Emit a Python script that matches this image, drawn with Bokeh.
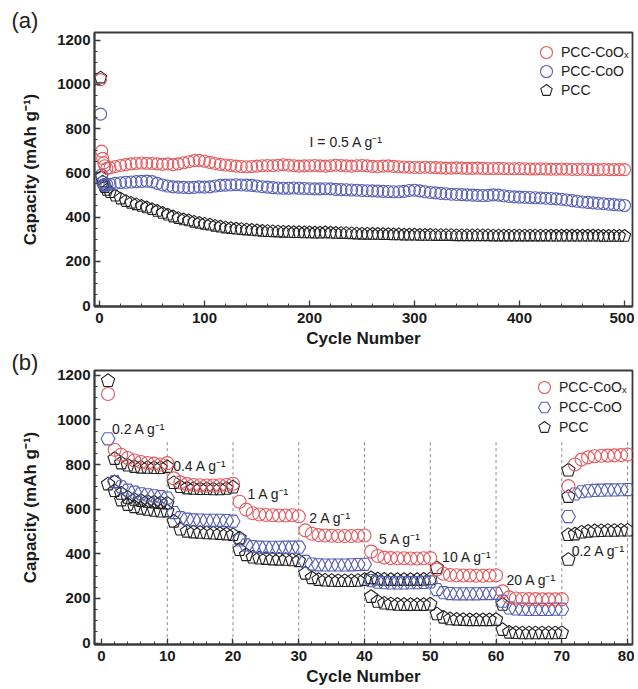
from bokeh.plotting import figure
from bokeh.models import Range1d, Label, Legend, LegendItem, SingleIntervalTicker, Title
from bokeh.layouts import column
from bokeh.embed import file_html
from bokeh.resources import INLINE

# ---------------- data: panel (a), cycling at 0.5 A g-1 ----------------
cycles_a = [1, 2, 3, 4, 5, 7] + list(range(10, 501, 5))

coox_a = [1021, 698, 665, 645, 632, 620,
          622, 628, 633, 637, 640, 642, 644, 643, 642, 640,
          638, 640, 637, 640, 645, 650, 655, 656, 652, 647,
          642, 638, 635, 633, 630, 628, 627, 628, 630, 632,
          633, 632, 634, 636, 634, 632, 630, 631, 632, 633,
          631, 630, 632, 634, 633, 631, 630, 632, 633, 631,
          629, 628, 630, 631, 629, 627, 626, 625, 624, 624,
          625, 624, 623, 622, 621, 621, 622, 621, 620, 620,
          621, 620, 619, 619, 620, 619, 618, 618, 619, 618,
          617, 617, 618, 617, 616, 616, 617, 616, 615, 615,
          616, 615, 614, 614, 615, 614, 614, 614, 614]

coo_a = [865, 590, 557, 546, 543, 545,
         548, 552, 555, 557, 558, 560, 561, 562, 560, 552,
         545, 540, 536, 535, 534, 533, 534, 536, 535, 536,
         540, 543, 544, 545, 546, 545, 544, 543, 540, 537,
         535, 533, 531, 530, 530, 531, 530, 529, 528, 527,
         527, 528, 527, 525, 524, 523, 522, 521, 520, 519,
         518, 517, 516, 515, 514, 514, 516, 520, 521, 518,
         514, 511, 509, 507, 505, 503, 502, 501, 500, 499,
         498, 497, 498, 500, 499, 496, 493, 491, 490, 489,
         488, 487, 486, 485, 484, 482, 480, 477, 474, 471,
         468, 466, 464, 462, 460, 458, 456, 454, 452]

pcc_a = [1030, 581, 560, 545, 535, 522,
         512, 496, 483, 472, 464, 457, 450, 443, 435, 427,
         418, 410, 402, 395, 389, 384, 378, 373, 369, 365,
         360, 356, 352, 349, 347, 345, 343, 341, 339, 337,
         336, 335, 334, 333, 332, 331, 331, 330, 330, 329,
         329, 330, 329, 328, 327, 327, 326, 325, 324, 324,
         323, 323, 322, 322, 321, 321, 320, 320, 320, 319,
         319, 319, 318, 318, 318, 318, 317, 317, 317, 317,
         317, 317, 317, 316, 316, 316, 316, 316, 316, 316,
         316, 316, 316, 316, 315, 315, 315, 315, 315, 315,
         315, 315, 315, 315, 314, 314, 314, 314, 314]

# ---------------- data: panel (b), rate capability ----------------
cycles_b = list(range(1, 81))

coox_b = [1116, 866, 844, 829, 818, 811, 807, 804, 800, 806,
          738, 720, 712, 708, 707, 706, 706, 707, 708, 714,
          633, 598, 582, 576, 574, 573, 572, 572, 573, 568,
          505, 490, 484, 482, 481, 480, 480, 480, 481, 482,
          410, 390, 383, 381, 380, 380, 379, 379, 380, 381,
          330, 311, 305, 304, 303, 303, 302, 302, 303, 304,
          232, 205, 200, 198, 197, 197, 196, 196, 196, 197,
          703, 800, 822, 832, 837, 839, 840, 841, 842, 845]

coo_b = [915, 723, 700, 685, 676, 669, 664, 660, 656, 650,
         585, 562, 555, 552, 551, 550, 550, 550, 549, 546,
         462, 440, 432, 430, 429, 429, 429, 430, 430, 430,
         366, 354, 351, 350, 350, 350, 350, 351, 352, 353,
         280, 273, 271, 270, 270, 270, 271, 271, 272, 274,
         240, 226, 222, 221, 221, 221, 221, 222, 222, 223,
         188, 158, 153, 152, 151, 151, 151, 151, 152, 152,
         567, 668, 678, 682, 684, 685, 686, 686, 687, 688]

pcc_b = [1175, 682, 640, 620, 610, 603, 598, 594, 590, 591,
         545, 510, 500, 497, 495, 493, 492, 490, 488, 485,
         418, 395, 384, 380, 378, 376, 375, 374, 372, 368,
         312, 292, 284, 281, 280, 279, 279, 279, 280, 284,
         208, 186, 178, 175, 173, 172, 172, 172, 172, 174,
         130, 115, 108, 106, 105, 104, 104, 104, 104, 105,
         60, 48, 46, 45, 45, 45, 45, 45, 45, 46,
         374, 488, 496, 500, 502, 503, 504, 504, 505, 505]

# additional dark pentagon points seen behind the coloured rows
extra_cycles_b = [2, 3, 4, 5, 6, 7, 8, 9, 10,
                  11, 12, 13, 14, 15, 16, 17, 18, 19, 20,
                  1, 2, 3, 4, 5, 6, 7, 8, 9, 10,
                  21,
                  41, 42, 43, 44, 45, 46, 47, 48, 49, 50,
                  51, 61, 71, 71, 71]
extra_caps_b = [826, 806, 796, 790, 787, 786, 785, 785, 790,
                718, 700, 694, 692, 691, 691, 690, 690, 692, 698,
                712, 722, 670, 652, 643, 638, 634, 631, 628, 626,
                470,
                292, 286, 285, 284, 284, 284, 284, 284, 285, 287,
                337, 173, 774, 656, 485]

rate_boundaries = [10, 20, 30, 40, 50, 60, 70, 80]
rate_texts = ["0.2 A g⁻¹", "0.4 A g⁻¹", "1 A g⁻¹", "2 A g⁻¹", "5 A g⁻¹",
              "10 A g⁻¹", "20 A g⁻¹", "0.2 A g⁻¹"]
rate_text_x = [1.6, 10.9, 22.2, 31.6, 42.2, 51.8, 61.6, 71.5]
rate_text_y = [960, 795, 668, 562, 466, 384, 282, 414]

series_names = ["PCC-CoOₓ", "PCC-CoO", "PCC"]

RED = "#e25a5f"
BLUE = "#5660b2"
BLACK = "#222222"
FONT = "Liberation Sans"


def style(p, xint, xminor, yint, yminor):
    p.outline_line_color = "#3a3a3a"
    p.outline_line_width = 1.8
    p.xgrid.visible = False
    p.ygrid.visible = False
    p.xaxis.ticker = SingleIntervalTicker(interval=xint, num_minor_ticks=xminor)
    p.yaxis.ticker = SingleIntervalTicker(interval=yint, num_minor_ticks=yminor)
    for ax in (p.xaxis[0], p.yaxis[0]):
        ax.major_tick_in = 6
        ax.major_tick_out = 0
        ax.minor_tick_in = 3
        ax.minor_tick_out = 0
        ax.axis_line_width = 1.8
        ax.axis_line_color = "#3a3a3a"
        ax.major_tick_line_color = "#3a3a3a"
        ax.minor_tick_line_color = "#3a3a3a"
        ax.major_tick_line_width = 1.3
        ax.major_label_text_font = FONT
        ax.major_label_text_font_style = "bold"
        ax.major_label_text_font_size = "15px"
        ax.major_label_text_color = "#1a1a1a"
        ax.axis_label_text_font = FONT
        ax.axis_label_text_font_style = "bold"
        ax.axis_label_text_font_size = "17px"
        ax.axis_label_text_color = "#1a1a1a"
    p.xaxis.major_label_standoff = 6
    p.xaxis.axis_label_standoff = 3
    p.yaxis.major_label_standoff = 4
    p.yaxis.axis_label_standoff = 14
    p.xaxis.axis_label = "Cycle Number"
    p.yaxis.axis_label = "Capacity (mAh g⁻¹)"


def pentagons(p, x, y, r):
    return p.ngon(x=x, y=y, radius=r, radius_units="screen", n=5,
                  fill_color=None, line_color=BLACK, line_width=1.1)


def add_legend(p, renderers, left, bottoms):
    # one single-entry legend per series so that the rows can sit close together
    for name, r, b in zip(series_names, renderers, bottoms):
        leg = Legend(items=[LegendItem(label=name, renderers=[r])],
                     location=(left, b), border_line_alpha=0, background_fill_alpha=0,
                     label_text_font=FONT, label_text_font_size="14px",
                     label_text_color="#222222", glyph_width=30, glyph_height=30,
                     label_standoff=0, spacing=0, padding=0, margin=0, label_height=16)
        p.add_layout(leg)


def panel_tag(p, text, standoff):
    p.add_layout(Title(text=text, align="left", offset=-83, standoff=standoff,
                       text_font=FONT, text_font_size="22px", text_font_style="normal",
                       text_color="#222222"), "above")


# ---------------- panel (a) ----------------
pa = figure(width=634, height=350, output_backend="svg", toolbar_location=None,
            x_range=Range1d(-4.8, 507.6), y_range=Range1d(-4.5, 1234),
            min_border_left=94, min_border_right=2, min_border_top=32, min_border_bottom=41)
style(pa, 100, 5, 200, 4)
panel_tag(pa, "(a)", 0)
rk_a = pentagons(pa, cycles_a, pcc_a, 6.5)
rb_a = pa.scatter(cycles_a, coo_a, marker="circle", size=12, fill_color=None,
                  line_color=BLUE, line_width=1.1)
rr_a = pa.scatter(cycles_a, coox_a, marker="circle", size=12, fill_color=None,
                  line_color=RED, line_width=1.1)
add_legend(pa, [rr_a, rb_a, rk_a], 437, [239, 220, 201])
pa.add_layout(Label(x=200, y=737, text="I = 0.5 A g⁻¹", text_font=FONT,
                    text_font_size="14px", text_baseline="middle", text_color="#222222"))

# ---------------- panel (b) ----------------
pb = figure(width=634, height=338, output_backend="svg", toolbar_location=None,
            x_range=Range1d(-1.06, 80.75), y_range=Range1d(-6, 1221),
            min_border_left=94, min_border_right=2, min_border_top=20, min_border_bottom=41)
style(pb, 10, 5, 200, 4)
panel_tag(pb, "(b)", -8)
pb.segment(x0=rate_boundaries, y0=0, x1=rate_boundaries, y1=905,
           line_color="#888888", line_dash="3 3", line_width=1)
pentagons(pb, extra_cycles_b, extra_caps_b, 7)
rk_b = pentagons(pb, cycles_b, pcc_b, 7)
rb_b = pb.scatter(cycles_b, coo_b, marker="hex", size=14, fill_color=None,
                  line_color=BLUE, line_width=1.1)
rr_b = pb.scatter(cycles_b, coox_b, marker="circle", size=13, fill_color=None,
                  line_color=RED, line_width=1.1)
add_legend(pb, [rr_b, rb_b, rk_b], 435, [242, 222, 202])
for t, x, y in zip(rate_texts, rate_text_x, rate_text_y):
    pb.add_layout(Label(x=x, y=y, text=t, text_font=FONT, text_font_size="14px",
                        text_baseline="middle", text_color="#222222"))

layout = column(pa, pb, spacing=0)
open("out.html", "w").write(file_html(layout, INLINE))
